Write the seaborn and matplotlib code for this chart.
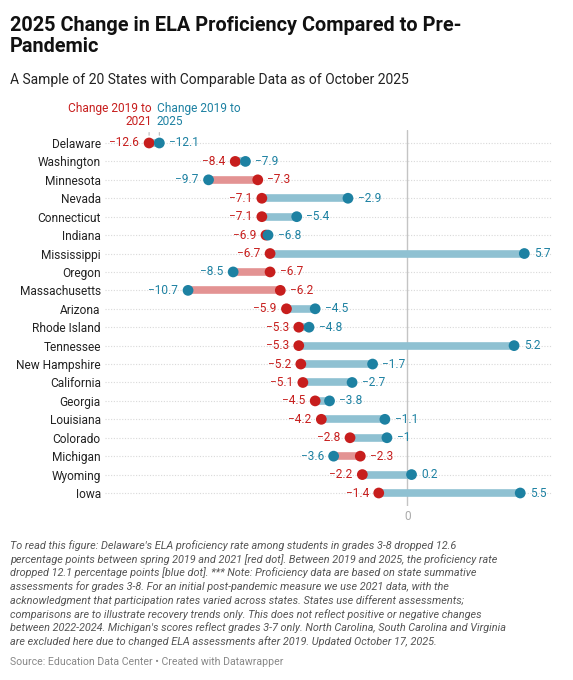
import pandas as pd
import seaborn as sns
import matplotlib.pyplot as plt

states = ["Delaware", "Washington", "Minnesota", "Nevada", "Connecticut", "Indiana",
          "Mississippi", "Oregon", "Massachusetts", "Arizona", "Rhode Island", "Tennessee",
          "New Hampshire", "California", "Georgia", "Louisiana", "Colorado", "Michigan",
          "Wyoming", "Iowa"]
change_2021 = [-12.6, -8.4, -7.3, -7.1, -7.1, -6.9, -6.7, -6.7, -6.2, -5.9,
               -5.3, -5.3, -5.2, -5.1, -4.5, -4.2, -2.8, -2.3, -2.2, -1.4]
change_2025 = [-12.1, -7.9, -9.7, -2.9, -5.4, -6.8, 5.7, -8.5, -10.7, -4.5,
               -4.8, 5.2, -1.7, -2.7, -3.8, -1.1, -1.0, -3.6, 0.2, 5.5]

RED = "#c71e1d"
BLUE = "#1d81a2"
RED_BAR = "#e39393"
BLUE_BAR = "#8fc1d2"
FONT = "Roboto"

df = pd.DataFrame({"state": states, "c2021": change_2021, "c2025": change_2025})
df["y"] = range(len(df))

sns.set_style("white")
plt.rcParams["font.family"] = [FONT, "DejaVu Sans"]

fig = plt.figure(figsize=(5.73, 6.8), dpi=100)
ax = fig.add_axes([105 / 573, 1 - 505.9 / 680, 447 / 573, 375.8 / 680])

# gridlines + zero line
for y in df["y"]:
    ax.axhline(y, color="#d9d9d9", lw=0.8, ls=(0, (1, 1.5)), zorder=0)
ax.axvline(0, color="#c4c4c4", lw=1, zorder=0.5)

# range bars
for _, r in df.iterrows():
    col = BLUE_BAR if r.c2025 >= r.c2021 else RED_BAR
    ax.hlines(r.y, r.c2021, r.c2025, color=col, lw=5.5, zorder=1)

sns.scatterplot(data=df, x="c2021", y="y", color=RED, s=60, edgecolor="none", zorder=3, ax=ax)
sns.scatterplot(data=df, x="c2025", y="y", color=BLUE, s=60, edgecolor="none", zorder=4, ax=ax)

def fmt(v):
    return f"{v:g}".replace("-", "\u2212")

for _, r in df.iterrows():
    red_left = r.c2021 <= r.c2025
    ax.annotate(fmt(r.c2021), (r.c2021, r.y), xytext=(-7 if red_left else 7, 0),
                textcoords="offset points", ha="right" if red_left else "left",
                va="center", color=RED, fontsize=8.6)
    ax.annotate(fmt(r.c2025), (r.c2025, r.y), xytext=(7 if red_left else -7, 0),
                textcoords="offset points", ha="left" if red_left else "right",
                va="center", color=BLUE, fontsize=8.6)

ax.set_xlim(-14.75, 7.05)
ax.set_ylim(19.7, -0.7)
ax.set_yticks(df["y"])
ax.set_yticklabels(df["state"], fontsize=8.6, color="#222222")
ax.set_xticks([0])
ax.set_xticklabels(["0"], fontsize=8.6, color="#aaaaaa")
ax.tick_params(axis="both", length=0, pad=3)
ax.set_xlabel("")
ax.set_ylabel("")
sns.despine(ax=ax, left=True, bottom=True)

# legend labels above first row
ax.annotate("Change 2019 to\n2021", (-12.6, -0.7), xytext=(2, 1.5), textcoords="offset points",
            ha="right", va="bottom", color=RED, fontsize=8.6, multialignment="right",
            linespacing=1.05, annotation_clip=False)
ax.annotate("Change 2019 to\n2025", (-12.1, -0.7), xytext=(-2, 1.5), textcoords="offset points",
            ha="left", va="bottom", color=BLUE, fontsize=8.6, multialignment="left",
            linespacing=1.05, annotation_clip=False)
for xv in (-12.6, -12.1):
    ax.annotate("", (xv, -0.42), xytext=(xv, -0.72),
                arrowprops=dict(arrowstyle="-", color="#bbbbbb", lw=0.8),
                annotation_clip=False)

fig.text(10 / 573, 1 - 16 / 680, "2025 Change in ELA Proficiency Compared to Pre-\nPandemic",
         ha="left", va="top", fontsize=14.3, fontweight="bold", color="#111111", linespacing=1.15)
fig.text(10 / 573, 1 - 73 / 680, "A Sample of 20 States with Comparable Data as of October 2025",
         ha="left", va="top", fontsize=10, color="#222222")

note = ("To read this figure: Delaware's ELA proficiency rate among students in grades 3-8 dropped 12.6\n"
        "percentage points between spring 2019 and 2021 [red dot]. Between 2019 and 2025, the proficiency rate\n"
        "dropped 12.1 percentage points [blue dot]. *** Note: Proficiency data are based on state summative\n"
        "assessments for grades 3-8. For an initial post-pandemic measure we use 2021 data, with the\n"
        "acknowledgment that participation rates varied across states. States use different assessments;\n"
        "comparisons are to illustrate recovery trends only. This does not reflect positive or negative changes\n"
        "between 2022-2024. Michigan's scores reflect grades 3-7 only. North Carolina, South Carolina and Virginia\n"
        "are excluded here due to changed ELA assessments after 2019. Updated October 17, 2025.")
fig.text(10 / 573, 1 - 540 / 680, note, ha="left", va="top", fontsize=7.8, style="italic",
         color="#555555", linespacing=1.32)
fig.text(10 / 573, 1 - 657 / 680, "Source: Education Data Center \u2022 Created with Datawrapper",
         ha="left", va="top", fontsize=7.6, color="#888888")

fig.savefig("out.png", dpi=100)
